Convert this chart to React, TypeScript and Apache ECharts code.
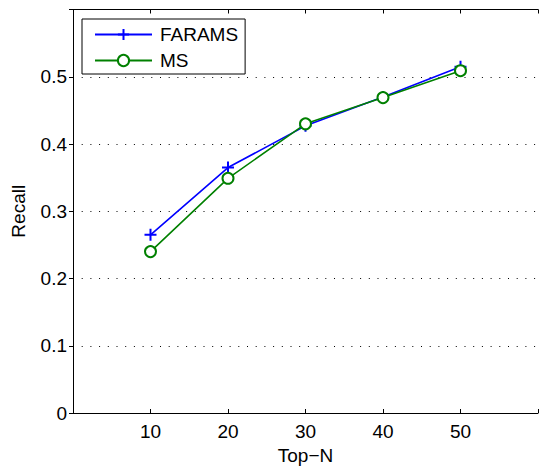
import React, { useEffect, useRef } from "react";
import * as echarts from "echarts";

const topN = [10, 20, 30, 40, 50];
const faramsRecall = [0.265, 0.365, 0.427, 0.47, 0.515];
const msRecall = [0.24, 0.349, 0.43, 0.469, 0.509];
const seriesNames = ["FARAMS", "MS"];

const FONT = "'Liberation Sans', Arial, Helvetica, sans-serif";
const FS = 19;

export default function App() {
  const ref = useRef<HTMLDivElement>(null);
  useEffect(() => {
    document.body.style.margin = "0";
    const chart = echarts.init(ref.current!, null, { renderer: "svg" });
    const plus = "path://M0,6 L12,6 M6,0 L6,12";
    chart.setOption({
      animation: false,
      backgroundColor: "#fff",
      textStyle: { fontFamily: FONT },
      grid: { left: 73, top: 9.5, bottom: 53.3, right: -7.3, containLabel: false },
      legend: {
        left: 82,
        top: 19,
        orient: "vertical",
        backgroundColor: "#fff",
        borderColor: "#000",
        borderWidth: 1,
        borderRadius: 0,
        padding: [6, 7, 4, 12],
        itemWidth: 57,
        itemHeight: 14,
        itemGap: 7,
        textStyle: { fontSize: FS, color: "#000", fontFamily: FONT, lineHeight: 19, padding: [0, 0, 0, 3] },
        data: seriesNames,
      },
      xAxis: [
        {
          type: "value",
          min: 0,
          max: 60,
          interval: 10,
          position: "bottom",
          name: "Top\u2212N",
          nameLocation: "middle",
          nameGap: 33,
          nameTextStyle: { fontSize: FS, color: "#000", fontFamily: FONT },
          axisLine: { lineStyle: { color: "#000", width: 1 } },
          axisTick: { inside: true, length: 4, lineStyle: { color: "#000" } },
          axisLabel: {
            fontSize: FS,
            color: "#000",
            fontFamily: FONT,
            margin: 9,
            formatter: (v: number) => (v === 0 || v === 60 ? "" : String(v)),
          },
          splitLine: { show: false },
        },
        {
          type: "value",
          min: 0,
          max: 60,
          interval: 10,
          position: "top",
          axisLine: { lineStyle: { color: "#000", width: 1 } },
          axisTick: { inside: true, length: 4, lineStyle: { color: "#000" } },
          axisLabel: { show: false },
          splitLine: { show: false },
        },
      ],
      yAxis: {
        type: "value",
        min: 0,
        max: 0.6,
        interval: 0.1,
        name: "Recall",
        nameLocation: "middle",
        nameGap: 45,
        nameRotate: 90,
        nameTextStyle: { fontSize: FS, color: "#000", fontFamily: FONT },
        axisLine: { show: true, lineStyle: { color: "#000", width: 1 } },
        axisTick: { show: true, inside: false, length: 4, lineStyle: { color: "#000" } },
        axisLabel: {
          fontSize: FS,
          color: "#000",
          fontFamily: FONT,
          margin: 6,
          formatter: (v: number) =>
            Math.abs(v) < 1e-9 ? "0" : Math.abs(v - 0.6) < 1e-9 ? "" : v.toFixed(1),
        },
        splitLine: { show: true, lineStyle: { color: "#000", width: 1, type: [1, 7.7] } },
      },
      series: [
        {
          name: seriesNames[0],
          type: "line",
          data: topN.map((x, i) => [x, faramsRecall[i]]),
          symbol: plus,
          symbolSize: 12,
          lineStyle: { color: "#0000ff", width: 1.6 },
          itemStyle: { color: "#0000ff", borderColor: "#0000ff", borderWidth: 2 },
          z: 2,
        },
        {
          name: seriesNames[1],
          type: "line",
          data: topN.map((x, i) => [x, msRecall[i]]),
          symbol: "circle",
          symbolSize: 11,
          showAllSymbol: true,
          lineStyle: { color: "#008000", width: 1.6 },
          itemStyle: { color: "#fff", borderColor: "#008000", borderWidth: 2 },
          z: 3,
        },
      ],
    });
    return () => chart.dispose();
  }, []);
  return <div ref={ref} style={{ width: 541, height: 470 }} />;
}
